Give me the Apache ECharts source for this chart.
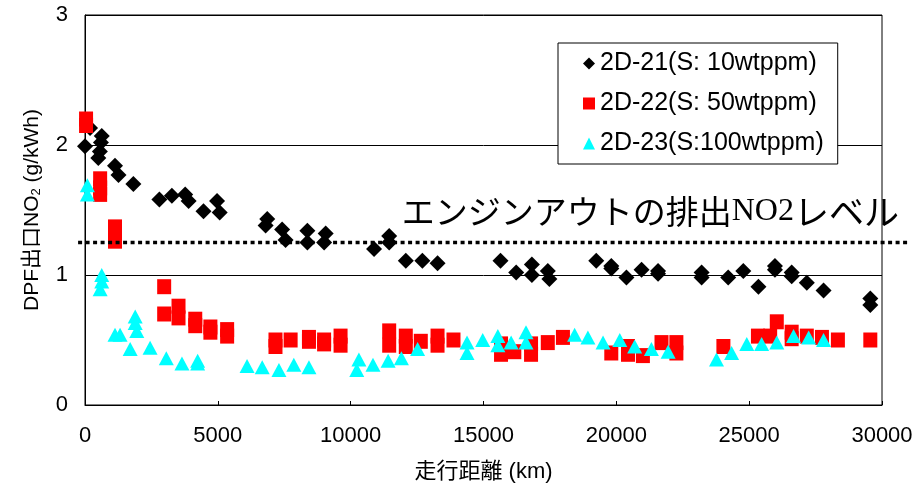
<!DOCTYPE html>
<html>
<head>
<meta charset="utf-8">
<script src="https://cdn.jsdelivr.net/npm/echarts@6/dist/echarts.min.js"></script>
<style>
html,body{margin:0;padding:0;background:#fff;}
#c{width:923px;height:489px;}
</style>
</head>
<body>
<div id="c"></div>
<script>
// ---- data (x: 走行距離 km, y: DPF出口NO2 g/kWh) ----
var seriesNames = ['2D-21(S: 10wtppm)', '2D-22(S: 50wtppm)', '2D-23(S:100wtppm)'];

var d21 = [[0,1.99],[190,2.13],[500,1.90],[560,1.95],[600,2.02],[630,2.07],[1130,1.84],[1260,1.77],
  [1820,1.70],[2800,1.58],[3270,1.61],[3770,1.62],[3900,1.57],[4460,1.49],[4970,1.57],[5070,1.48],
  [6860,1.43],[6800,1.38],[7420,1.35],[7550,1.27],[8370,1.34],[8370,1.25],[9060,1.32],[9000,1.25],
  [10880,1.20],[11450,1.30],[11450,1.25],[12075,1.11],[12700,1.11],[13270,1.09],[15640,1.11],
  [16230,1.02],[16820,1.08],[16820,1.00],[17420,1.03],[17480,0.97],[19245,1.11],[19810,1.07],
  [19810,1.05],[20380,0.98],[20950,1.04],[21570,1.03],[21570,1.01],[23210,1.02],[23210,0.98],
  [24210,0.98],[24780,1.03],[25350,0.91],[25970,1.07],[25970,1.04],[26600,1.02],[26600,0.99],
  [27170,0.94],[27800,0.88],[29560,0.82],[29560,0.77]];

var d22 = [[40,2.20],[40,2.15],[570,1.74],[570,1.67],[570,1.62],[1130,1.37],[1130,1.30],[1130,1.26],
  [2980,0.91],[2980,0.70],[3520,0.76],[3520,0.67],[4150,0.66],[4150,0.61],[4720,0.60],[4720,0.56],
  [5350,0.58],[5350,0.53],[7170,0.50],[7170,0.45],[7740,0.50],[8430,0.52],[8430,0.49],[9000,0.50],
  [9000,0.47],[9620,0.53],[9620,0.46],[11450,0.57],[11450,0.46],[12075,0.53],[12075,0.45],[12640,0.49],
  [13270,0.53],[13270,0.46],[13870,0.50],[15660,0.47],[15660,0.39],[16160,0.41],[16790,0.47],[16790,0.39],
  [17420,0.48],[17990,0.52],[19810,0.40],[20440,0.45],[20440,0.39],[21000,0.38],[21700,0.48],[22260,0.48],
  [22260,0.40],[24030,0.45],[25330,0.53],[25790,0.53],[26040,0.64],[26600,0.56],[26600,0.51],[27170,0.53],
  [27740,0.52],[28340,0.50],[29560,0.50]];

var d23 = [[90,1.69],[90,1.62],[630,1.00],[630,0.95],[570,0.89],[1130,0.54],[1320,0.54],[1700,0.43],
  [1890,0.68],[1890,0.63],[1950,0.57],[2450,0.44],[3060,0.36],[3650,0.32],[4240,0.34],[4240,0.32],
  [6100,0.30],[6670,0.29],[7300,0.27],[7860,0.31],[8430,0.29],[10230,0.27],[10310,0.35],[10840,0.31],
  [11410,0.34],[11910,0.36],[12520,0.43],[14380,0.48],[14380,0.40],[14970,0.50],[15540,0.53],[15540,0.46],
  [16040,0.48],[16600,0.56],[16600,0.48],[18430,0.54],[18930,0.52],[19500,0.48],[20130,0.50],[20690,0.45],
  [21320,0.43],[21950,0.41],[23770,0.35],[24340,0.40],[24910,0.47],[25470,0.47],[26040,0.48],[26670,0.53],
  [27240,0.52],[27800,0.50]];

var xTicks = [0, 5000, 10000, 15000, 20000, 25000, 30000];
var yTicks = [0, 1, 2, 3];
var engineOutLevel = 1.25;          // エンジンアウトの排出NO2レベル
var annotationAnchor = [11920, 1.49];  // position of the annotation text (data units)
var levelLineRange = [-260, 31000];     // dotted line extent (data units)

var xAxisName = '走行距離 (km)';

var chart = echarts.init(document.getElementById('c'), null, {renderer: 'canvas'});

var sansF = '"Liberation Sans", Arial, "Noto Sans CJK JP", sans-serif';

chart.setOption({
  animation: false,
  backgroundColor: '#fff',
  grid: {
    left: 85, right: 41, top: 15, bottom: 84,
    show: true, borderColor: '#000', borderWidth: 1, backgroundColor: 'transparent'
  },
  legend: {
    orient: 'vertical',
    left: 558, top: 43,
    padding: [8, 14, 8, 25],
    itemGap: 15,
    itemWidth: 12, itemHeight: 12,
    backgroundColor: '#fff',
    borderColor: '#000', borderWidth: 1,
    textStyle: {fontSize: 25, color: '#000', fontFamily: sansF},
    data: [
      {name: seriesNames[0], icon: 'diamond'},
      {name: seriesNames[1], icon: 'rect'},
      {name: seriesNames[2], icon: 'triangle'}
    ]
  },
  xAxis: {
    type: 'value',
    min: xTicks[0], max: xTicks[xTicks.length - 1], interval: xTicks[1] - xTicks[0],
    name: xAxisName,
    nameLocation: 'middle',
    nameGap: 56,
    nameTextStyle: {fontSize: 22, color: '#000', fontFamily: sansF},
    axisLine: {show: true, onZero: false, lineStyle: {color: '#000', width: 1}},
    axisTick: {show: true, inside: true, length: 4, lineStyle: {color: '#000'}},
    axisLabel: {fontSize: 22, color: '#000', margin: 20, fontFamily: sansF,
      formatter: function (v) { return String(v); }},
    splitLine: {show: false}
  },
  yAxis: {
    type: 'value',
    min: yTicks[0], max: yTicks[yTicks.length - 1], interval: 1,
    name: '{a|DPF出口NO}{s|2}{a| (g/kWh)}',
    nameLocation: 'middle',
    nameRotate: 90,
    nameGap: 42,
    nameTextStyle: {
      color: '#000',
      rich: {
        a: {fontSize: 21, lineHeight: 24, color: '#000', fontFamily: sansF, verticalAlign: 'bottom'},
        s: {fontSize: 13, lineHeight: 13, color: '#000', fontFamily: sansF, verticalAlign: 'bottom'}
      }
    },
    axisLine: {show: true, onZero: false, lineStyle: {color: '#000', width: 1}},
    axisTick: {show: false},
    axisLabel: {fontSize: 22, color: '#000', margin: 17, fontFamily: sansF},
    splitLine: {show: true, lineStyle: {color: '#000', width: 1}}
  },
  series: [
    {
      name: seriesNames[0], type: 'scatter', data: d21,
      symbol: 'diamond', symbolSize: 16,
      itemStyle: {color: '#000', opacity: 1}
    },
    {
      name: seriesNames[1], type: 'scatter', data: d22,
      symbol: 'rect', symbolSize: [14, 15],
      itemStyle: {color: '#ff0000', opacity: 1}
    },
    {
      name: seriesNames[2], type: 'scatter', data: d23,
      symbol: 'triangle', symbolSize: [15, 14],
      itemStyle: {color: '#00ffff', opacity: 1}
    }
  ]
});

// annotation: dotted engine-out NO2 level line and label, positioned through the chart's scales
var p1 = chart.convertToPixel({gridIndex: 0}, [levelLineRange[0], engineOutLevel]);
var p2 = chart.convertToPixel({gridIndex: 0}, [levelLineRange[1], engineOutLevel]);
var pt = chart.convertToPixel({gridIndex: 0}, annotationAnchor);

chart.setOption({
  graphic: [
    {
      type: 'line', z: 50,
      shape: {x1: p1[0], y1: p1[1], x2: p2[0], y2: p2[1]},
      style: {stroke: '#000', lineWidth: 3.5, lineDash: [4, 3.5]}
    },
    {
      type: 'text', z: 50,
      x: pt[0], y: pt[1],
      style: {
        text: '{j|エンジンアウトの排出}{n|NO2}{r|レベル}',
        verticalAlign: 'middle', align: 'left',
        rich: {
          j: {fontSize: 33, fontFamily: '"Noto Sans CJK JP", sans-serif', fill: '#000'},
          r: {fontSize: 35, fontFamily: '"Noto Sans CJK JP", sans-serif', fill: '#000'},
          n: {fontSize: 32, fontFamily: '"Liberation Serif", "Times New Roman", serif', fill: '#000'}
        }
      }
    }
  ]
});
</script>
</body>
</html>
